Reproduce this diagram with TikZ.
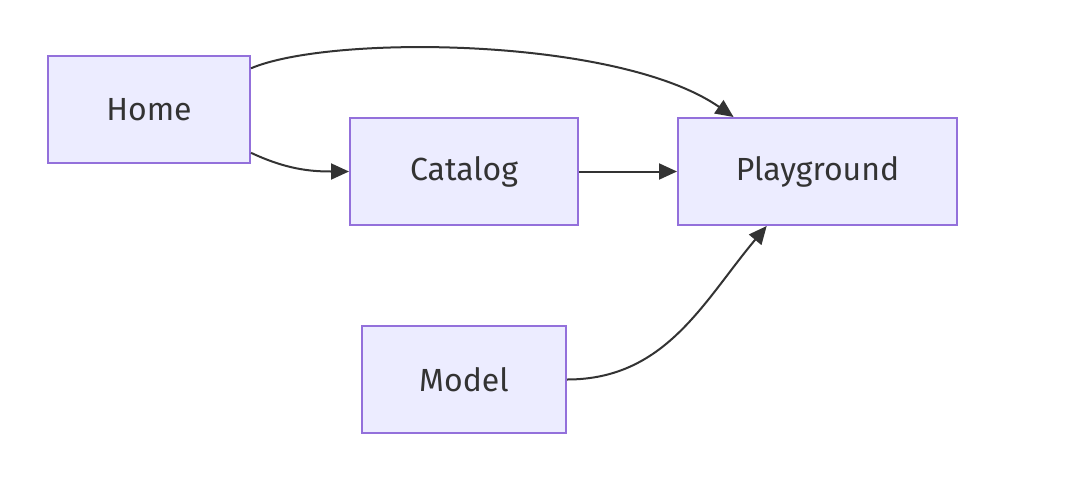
\documentclass[tikz,border=0pt]{standalone}
\usepackage{fontspec}
\setmainfont{Fira Sans}
\usetikzlibrary{arrows.meta}
\definecolor{boxfill}{HTML}{ECECFF}
\definecolor{boxline}{HTML}{9370DB}
\definecolor{ink}{HTML}{333333}
\tikzset{
  page/.style={draw=boxline, fill=boxfill, line width=1pt, text=ink,
    font=\fontsize{16}{19}\selectfont, minimum height=53.5pt, anchor=center},
  link/.style={draw=ink, line width=1pt, -{Triangle[length=9pt,width=8pt]}}
}
\begin{document}
\begin{tikzpicture}[x=0.5pt, y=-0.5pt]
\useasboundingbox (0, 0) rectangle (1070, 488);
\node[page, minimum width=101pt] (home) at (149, 109.5) {Home};
\node[page, minimum width=114pt] (catalog) at (464, 171.5) {Catalog};
\node[page, minimum width=139.5pt] (playground) at (817.5, 171.5) {Playground};
\node[page, minimum width=102pt] (model) at (464, 379.5) {Model};
\draw[link] (home.22) .. controls +(80, -34) and +(-115, -80) .. (playground.147);
\draw[link] (home.-23) to[out=-25, in=180] (catalog.west);
\draw[link] (catalog.east) -- (playground.west);
\draw[link] (model.east) to[out=0, in=-130] (playground.-133);
\end{tikzpicture}
\end{document}
